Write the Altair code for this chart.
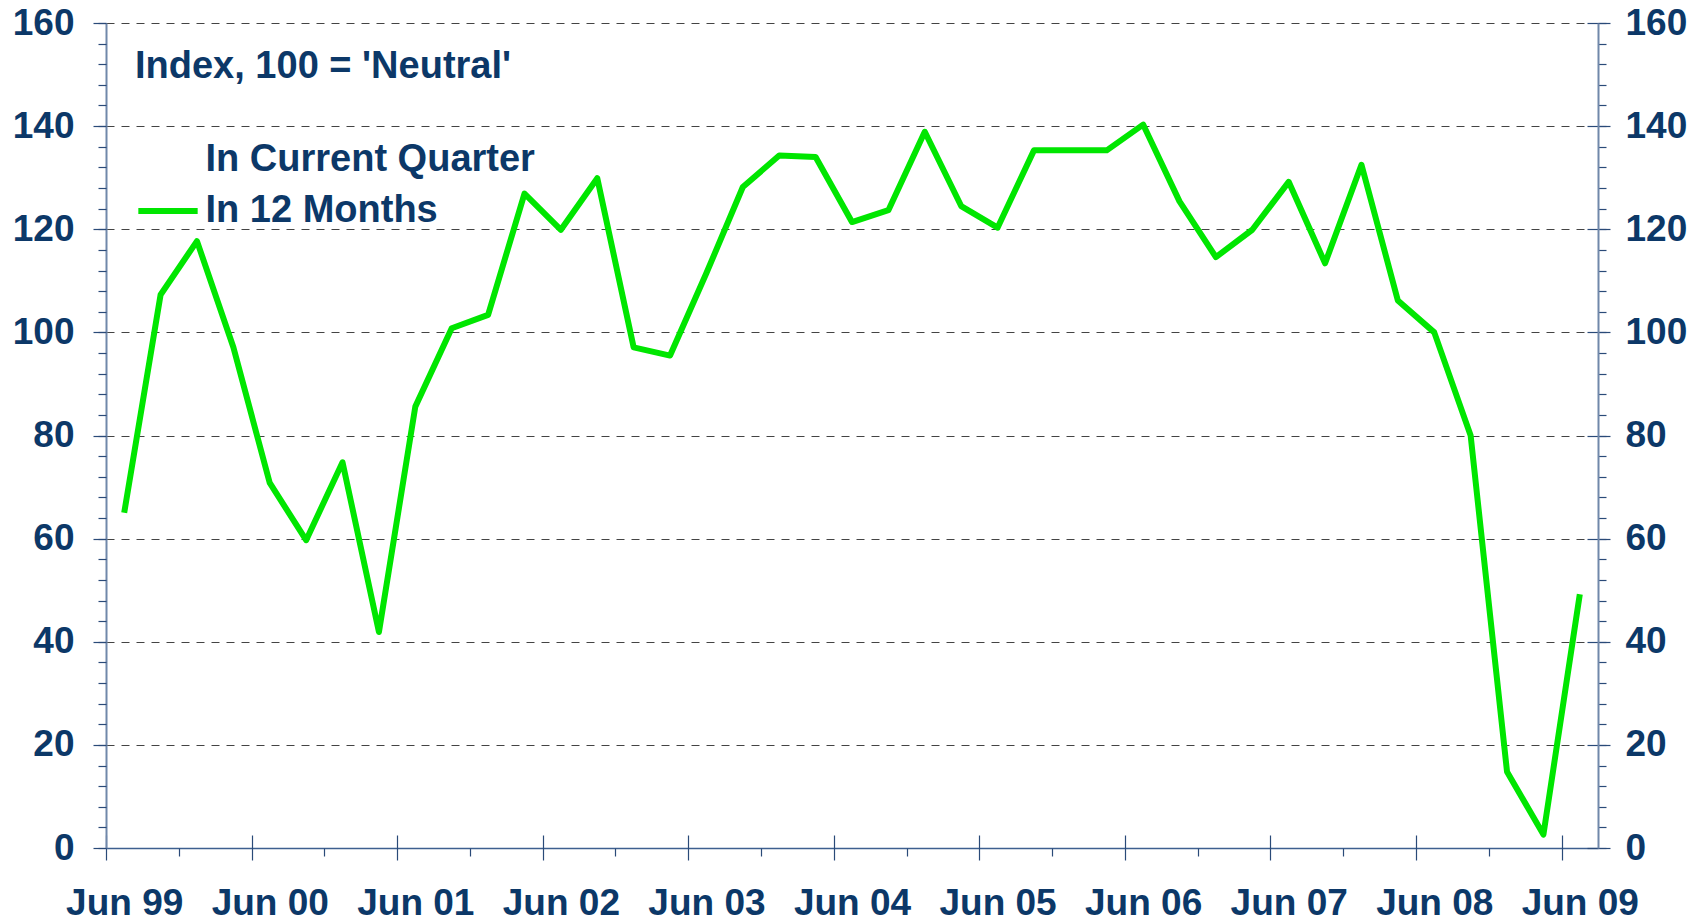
import altair as alt
import pandas as pd

QUARTERS = [
    "Jun 99", "Sep 99", "Dec 99", "Mar 00",
    "Jun 00", "Sep 00", "Dec 00", "Mar 01",
    "Jun 01", "Sep 01", "Dec 01", "Mar 02",
    "Jun 02", "Sep 02", "Dec 02", "Mar 03",
    "Jun 03", "Sep 03", "Dec 03", "Mar 04",
    "Jun 04", "Sep 04", "Dec 04", "Mar 05",
    "Jun 05", "Sep 05", "Dec 05", "Mar 06",
    "Jun 06", "Sep 06", "Dec 06", "Mar 07",
    "Jun 07", "Sep 07", "Dec 07", "Mar 08",
    "Jun 08", "Sep 08", "Dec 08", "Mar 09",
    "Jun 09",
]
IN_12_MONTHS = [
    65.0, 107.3, 117.7, 97.1,
    70.8, 59.7, 74.8, 41.9,
    85.6, 100.8, 103.4, 126.9,
    119.9, 129.9, 97.1, 95.5,
    111.5, 128.2, 134.3, 134.0,
    121.4, 123.7, 138.9, 124.5,
    120.3, 135.3, 135.3, 135.3,
    140.3, 125.4, 114.6, 119.9,
    129.2, 113.4, 132.5, 106.2,
    100.0, 80.0, 14.8, 2.6,
    49.2,
]
SERIES = ["In Current Quarter", "In 12 Months"]
NOTE = ["Index, 100 = 'Neutral'"]
Y_MAJOR = [0, 20, 40, 60, 80, 100, 120, 140, 160]
Y_MINOR = [v for v in range(0, 161, 4)]
X_MAJOR = [q for q in QUARTERS if q.startswith("Jun")]
X_MINOR = [q for q in QUARTERS if q.startswith("Dec")]

NAVY = "#0c3868"
TICK = "#2a4a78"
AXIS_LINE = "#7088aa"
FONT = "Liberation Sans"
GREEN = "#00e600"
W, H = 1492, 825
HALF = W / len(QUARTERS) / 2

df = pd.DataFrame({"quarter": QUARTERS, "value": IN_12_MONTHS, "series": SERIES[1]})

xs = alt.Scale(type="point", padding=0.5, domain=QUARTERS)
ys = alt.Scale(domain=[0, 160], nice=False, zero=True)

lab = dict(labelFont=FONT, labelFontSize=37, labelFontWeight="bold", labelColor=NAVY)

base = alt.Chart(df)

line = base.mark_line(strokeWidth=6, strokeJoin="round").encode(
    x=alt.X("quarter:O", scale=xs, sort=QUARTERS, title=None,
            axis=alt.Axis(orient="bottom", values=X_MAJOR, ticks=False, domain=True,
                          domainColor="#3d5f8f", domainWidth=1.5, labelAngle=0,
                          labelPadding=37, grid=False, labelOverlap=False, **lab)),
    y=alt.Y("value:Q", scale=ys, title=None,
            axis=alt.Axis(orient="left", values=Y_MAJOR, tickSize=13, tickColor=TICK,
                          tickWidth=1.2, domainColor=AXIS_LINE, domainWidth=2,
                          labelPadding=19, grid=True, gridDash=[8, 7], gridColor="#444444",
                          gridWidth=1, **lab)),
    color=alt.Color("series:N", scale=alt.Scale(domain=SERIES, range=["#ffffff", GREEN]),
                    legend=alt.Legend(orient="none", legendX=43, legendY=118, title=None,
                                      symbolType="M-2,0L2,0", symbolSize=880,
                                      symbolStrokeWidth=6, labelFont=FONT, labelFontSize=38,
                                      labelFontWeight="bold", labelColor=NAVY,
                                      labelOffset=18.5, rowPadding=13, padding=0,
                                      labelLimit=600)),
)

ghost1 = base.mark_line(strokeOpacity=0).encode(
    x=alt.X("quarter:O", scale=xs, sort=QUARTERS, title=None,
            axis=alt.Axis(orient="bottom", values=X_MAJOR, labels=False, domain=False,
                          tickSize=25, offset=-13, tickOffset=-HALF, tickColor=TICK,
                          tickWidth=1.2, grid=False)),
    y=alt.Y("value:Q", scale=ys, title=None,
            axis=alt.Axis(orient="left", values=Y_MINOR, labels=False, domain=False,
                          tickSize=8, tickColor=TICK, tickWidth=1.2, grid=False)),
)

ghost2 = base.mark_line(strokeOpacity=0).encode(
    x=alt.X("quarter:O", scale=xs, sort=QUARTERS, title=None,
            axis=alt.Axis(orient="bottom", values=X_MINOR, labels=False, domain=False,
                          tickSize=8, tickOffset=-HALF, tickColor=TICK, tickWidth=1.2,
                          grid=False)),
    y=alt.Y("value:Q", scale=ys, title=None,
            axis=alt.Axis(orient="right", values=Y_MAJOR, domain=False, offset=-11,
                          tickSize=23, tickColor=TICK, tickWidth=1.2, labelPadding=15,
                          grid=False, **lab)),
)

ghost3 = base.mark_line(strokeOpacity=0).encode(
    x=alt.X("quarter:O", scale=xs, sort=QUARTERS, title=None, axis=None),
    y=alt.Y("value:Q", scale=ys, title=None,
            axis=alt.Axis(orient="right", values=Y_MINOR, labels=False, domain=True,
                          domainColor=AXIS_LINE, domainWidth=2, tickSize=8,
                          tickColor=TICK, tickWidth=1.2, grid=False)),
)

note = alt.Chart(pd.DataFrame({"note": NOTE})).mark_text(
    align="left", baseline="middle", font=FONT, fontSize=38, fontWeight="bold", color=NAVY
).encode(x=alt.value(29), y=alt.value(44), text="note:N")

chart = (
    alt.layer(line, ghost1, ghost2, ghost3, note)
    .resolve_axis(x="independent", y="independent")
    .properties(width=W, height=H, autosize=alt.AutoSizeParams(type="none"),
                padding={"left": 98, "top": 15, "right": 102, "bottom": 74},
                background="white")
    .configure_view(strokeWidth=0)
)

chart.save("out.html", embed_options={"renderer": "svg", "actions": False})
